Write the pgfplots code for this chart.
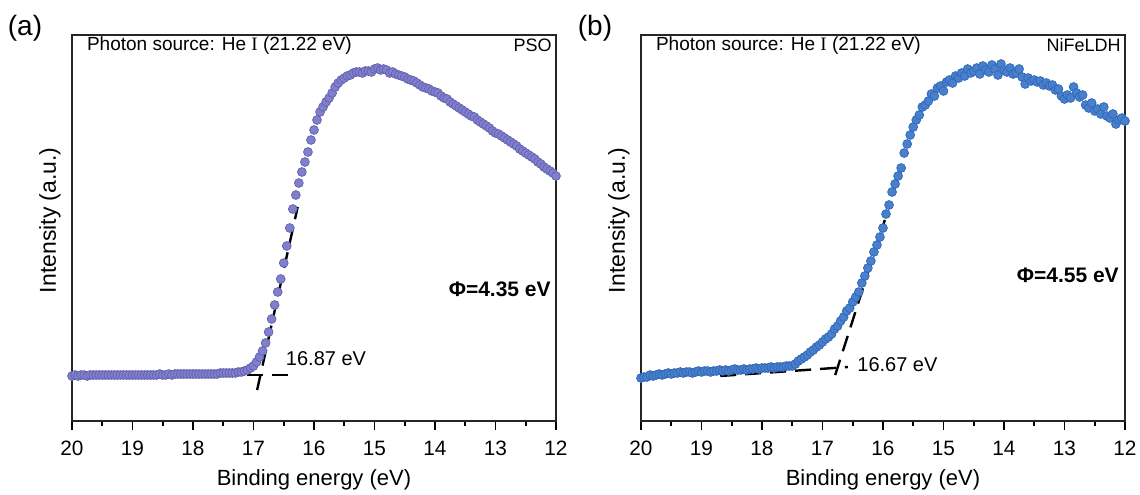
\documentclass[border=0pt]{standalone}
\usepackage{pgfplots}
\pgfplotsset{compat=1.18}
\usepackage{pgfplotstable}
\usepackage{fontspec}
\setmainfont{Liberation Sans}
\newfontfamily\seriffont{Liberation Serif}
\definecolor{psoc}{RGB}{128,128,204}
\definecolor{psod}{RGB}{100,100,180}
\definecolor{ldhc}{RGB}{72,128,205}
\definecolor{ldhd}{RGB}{50,105,185}

\pgfplotstableread{
E I
20.00 45
19.95 46
19.90 45
19.85 46
19.80 46
19.75 45
19.70 46
19.65 46
19.60 46
19.55 46
19.50 46
19.45 46
19.40 46
19.35 46
19.30 46
19.25 46
19.20 46
19.15 46
19.10 46
19.05 46
19.00 46
18.95 46
18.90 46
18.85 46
18.80 46
18.75 46
18.70 46
18.65 46
18.60 46
18.55 47
18.50 46
18.45 46
18.40 47
18.35 46
18.30 47
18.25 47
18.20 47
18.15 47
18.10 47
18.05 47
18.00 47
17.95 47
17.90 47
17.85 47
17.80 47
17.75 47
17.70 47
17.65 47
17.60 47
17.55 48
17.50 48
17.45 48
17.40 48
17.35 48
17.30 48
17.25 49
17.20 49
17.15 50
17.10 51
17.05 53
17.00 55
16.95 59
16.90 64
16.85 70
16.80 78
16.75 89
16.70 102
16.65 116
16.60 129
16.55 142
16.50 158
16.45 175
16.40 193
16.35 212
16.30 226
16.25 238
16.20 249
16.15 259
16.10 269
16.05 281
16.00 291
15.95 301
15.90 309
15.85 314
15.80 319
15.75 323
15.70 328
15.65 334
15.60 338
15.55 341
15.50 343
15.45 345
15.40 346
15.35 348
15.30 349
15.25 349
15.20 348
15.15 350
15.10 350
15.05 349
15.00 352
14.95 353
14.90 351
14.85 352
14.80 351
14.75 348
14.70 349
14.65 347
14.60 346
14.55 345
14.50 344
14.45 342
14.40 341
14.35 340
14.30 338
14.25 336
14.20 334
14.15 333
14.10 332
14.05 330
14.00 329
13.95 328
13.90 325
13.85 323
13.80 322
13.75 319
13.70 317
13.65 315
13.60 313
13.55 311
13.50 309
13.45 307
13.40 305
13.35 304
13.30 301
13.25 299
13.20 297
13.15 295
13.10 293
13.05 290
13.00 288
12.95 287
12.90 285
12.85 283
12.80 281
12.75 279
12.70 277
12.65 275
12.60 272
12.55 270
12.50 268
12.45 266
12.40 264
12.35 262
12.30 259
12.25 257
12.20 254
12.15 252
12.10 250
12.05 248
12.00 245
}\psodata

\pgfplotstableread{
E I
20.00 43
19.95 44
19.90 44
19.85 46
19.80 45
19.75 46
19.70 47
19.65 46
19.60 47
19.55 48
19.50 47
19.45 48
19.40 48
19.35 49
19.30 48
19.25 49
19.20 49
19.15 48
19.10 49
19.05 50
19.00 49
18.95 50
18.90 50
18.85 49
18.80 50
18.75 50
18.70 51
18.65 50
18.60 51
18.55 50
18.50 51
18.45 52
18.40 51
18.35 51
18.30 52
18.25 51
18.20 52
18.15 52
18.10 53
18.05 52
18.00 53
17.95 53
17.90 53
17.85 54
17.80 53
17.75 54
17.70 54
17.65 54
17.60 55
17.55 55
17.50 55
17.45 57
17.40 60
17.35 62
17.30 64
17.25 66
17.20 69
17.15 71
17.10 74
17.05 76
17.00 79
16.95 82
16.90 84
16.85 87
16.80 92
16.75 95
16.70 100
16.65 104
16.60 110
16.55 113
16.50 119
16.45 124
16.40 129
16.35 138
16.30 145
16.25 153
16.20 160
16.15 169
16.10 176
16.05 184
16.00 193
15.95 207
15.90 216
15.85 229
15.80 237
15.75 245
15.70 253
15.65 268
15.60 277
15.55 286
15.50 294
15.45 301
15.40 306
15.35 314
15.30 316
15.25 320
15.20 327
15.15 325
15.10 333
15.05 335
15.00 330
14.95 339
14.90 341
14.85 338
14.80 345
14.75 343
14.70 348
14.65 345
14.60 352
14.55 348
14.50 350
14.45 353
14.40 347
14.35 355
14.30 351
14.25 349
14.20 356
14.15 352
14.10 346
14.05 357
14.00 351
13.95 349
13.90 353
13.85 347
13.80 348
13.75 352
13.70 344
13.65 337
13.60 343
13.55 340
13.50 341
13.45 339
13.40 340
13.35 336
13.30 338
13.25 335
13.20 336
13.15 331
13.10 332
13.05 325
13.00 322
12.95 326
12.90 323
12.85 334
12.80 328
12.75 324
12.70 326
12.65 316
12.60 313
12.55 318
12.50 310
12.45 312
12.40 307
12.35 314
12.30 305
12.25 303
12.20 307
12.15 297
12.10 301
12.05 303
12.00 300
}\ldhdata

\pgfplotsset{
  panel/.style={
    scale only axis,
    width=242pt, height=193pt,
    anchor=south west,
    x dir=reverse,
    xmin=12, xmax=20, ymin=0, ymax=386,
    xtick={12,13,...,20},
    minor x tick num=1,
    ytick=\empty,
    xtick pos=bottom,
    tick align=outside,
    major tick length=4.5pt,
    minor tick length=2.5pt,
    every tick/.style={black, line width=0.8pt},
    axis line style={line width=0.8pt, black!85},
    /pgf/number format/assume math mode=true,
    ticklabel style={font=\fontsize{10.4}{12}\selectfont},
    xticklabel style={yshift=-2pt},
    xlabel={Binding energy (eV)},
    ylabel={Intensity (a.u.)},
    xlabel style={at={(axis description cs:0.5,-0.152)}, anchor=center, font=\fontsize{11}{13}\selectfont},
    ylabel style={at={(axis description cs:-0.0455,0.52)}, anchor=center, rotate=0, font=\fontsize{11.5}{13}\selectfont},
    clip=false,
  },
  dashfit/.style={black, line width=1.2pt, dash pattern=on 8pt off 4.5pt, no markers},
}

\begin{document}
\begin{tikzpicture}
\useasboundingbox (0,0) rectangle (570pt,247pt);

\begin{axis}[panel, at={(36pt,36.5pt)}]
\addplot[only marks, mark=*, mark size=2.2pt, mark options={fill=psoc, draw=psod, line width=0.4pt}] table[x=E,y=I] {\psodata};
\addplot[dashfit] coordinates {(18.76,46) (16.31,46)};
\addplot[dashfit] coordinates {(16.94,31) (16.27,214)};
\node[anchor=west, font=\fontsize{9.5}{11}\selectfont] at (axis description cs:0.0165,0.9715) {Photon source: He {\seriffont I} (21.22 eV)};
\node[anchor=east, font=\fontsize{9}{11}\selectfont, inner sep=1pt] at (axis description cs:0.996,0.974) {PSO};
\node[anchor=west, inner sep=0pt, font=\fontsize{10}{12}\selectfont] at (axis cs:16.47,62) {16.87 eV};
\node[anchor=east, font=\bfseries\fontsize{10.5}{12}\selectfont, inner sep=1pt] at (axis description cs:0.994,0.342) {Φ=4.35 eV};
\end{axis}

\begin{axis}[panel, at={(320.5pt,36.5pt)}]
\addplot[only marks, mark=*, mark size=2.2pt, mark options={fill=ldhc, draw=ldhd, line width=0.4pt}] table[x=E,y=I] {\ldhdata};
\addplot[dashfit] coordinates {(18.69,45) (16.58,54)};
\addplot[dashfit] coordinates {(16.79,46) (15.97,201)};
\node[anchor=west, font=\fontsize{9.5}{11}\selectfont] at (axis description cs:0.0165,0.9715) {Photon source: He {\seriffont I} (21.22 eV)};
\node[anchor=east, font=\fontsize{9}{11}\selectfont, inner sep=1pt] at (axis description cs:0.996,0.974) {NiFeLDH};
\node[anchor=west, inner sep=0pt, font=\fontsize{10}{12}\selectfont] at (axis cs:16.43,56) {16.67 eV};
\node[anchor=east, font=\bfseries\fontsize{10.5}{12}\selectfont, inner sep=1pt] at (axis description cs:0.992,0.378) {Φ=4.55 eV};
\end{axis}

\node[font=\fontsize{14}{16}\selectfont] at (12.5pt,233pt) {(a)};
\node[font=\fontsize{14}{16}\selectfont] at (297.5pt,233pt) {(b)};
\end{tikzpicture}
\end{document}
